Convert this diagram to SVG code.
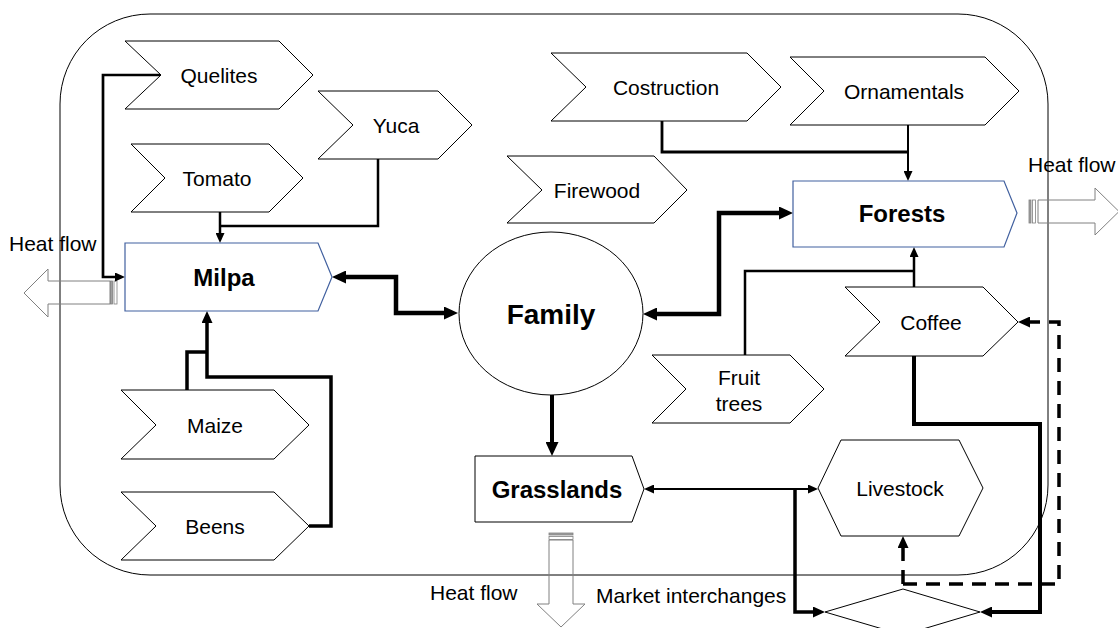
<svg xmlns="http://www.w3.org/2000/svg" width="1118" height="628" viewBox="0 0 1118 628">
<style>
.sh{fill:#fff;stroke:#000;stroke-width:1}
.bl{fill:#fff;stroke:#41609f;stroke-width:1.2}
.t{font-family:"Liberation Sans",Arial,sans-serif;font-size:21px;fill:#000;text-anchor:middle}
.tb{font-family:"Liberation Sans",Arial,sans-serif;font-size:24px;font-weight:bold;fill:#000;text-anchor:middle}
.tl{font-family:"Liberation Sans",Arial,sans-serif;font-size:21px;fill:#000}
.c{fill:none;stroke:#000;stroke-linejoin:miter}
.ha{fill:none;stroke:#808080;stroke-width:1}
</style>
<defs>
<marker id="big" markerUnits="userSpaceOnUse" viewBox="0 0 14 13" markerWidth="14" markerHeight="13" refX="8" refY="6.5" orient="auto-start-reverse"><path d="M0,0 L14,6.5 L0,13 z" fill="#000"/></marker>
<marker id="med" markerUnits="userSpaceOnUse" viewBox="0 0 12 11" markerWidth="12" markerHeight="11" refX="7" refY="5.5" orient="auto-start-reverse"><path d="M0,0 L12,5.5 L0,11 z" fill="#000"/></marker>
<marker id="sm" markerUnits="userSpaceOnUse" viewBox="0 0 10 9" markerWidth="10" markerHeight="9" refX="6" refY="4.5" orient="auto-start-reverse"><path d="M0,0 L10,4.5 L0,9 z" fill="#000"/></marker>
</defs>
<rect width="1118" height="628" fill="#fff"/>
<rect id="boundary" x="60" y="14" width="988" height="561" rx="90" ry="90" fill="none" stroke="#000" stroke-width="1"/>

<g id="heat-left">
<polygon class="ha" points="110,281 48,281 48,269 24,293 48,317 48,304 110,304"/>
<rect x="110.5" y="281" width="2" height="23" fill="#a0a0a0" stroke="#808080" stroke-width="0.8"/>
<rect x="114" y="281" width="3" height="23" fill="none" stroke="#808080" stroke-width="0.8"/>
<text class="tl" x="9" y="251">Heat flow</text>
</g>
<g id="heat-right">
<polygon class="ha" points="1038,200 1095,200 1095,188 1119,211.5 1095,235 1095,223 1038,223"/>
<rect x="1029" y="200" width="2" height="23" fill="#a0a0a0" stroke="#808080" stroke-width="0.8"/>
<rect x="1032.5" y="200" width="3" height="23" fill="none" stroke="#808080" stroke-width="0.8"/>
<text class="tl" x="1028" y="172">Heat flow</text>
</g>
<g id="heat-bottom">
<polygon class="ha" points="549,540 549,604 537,604 561,627 585,604 573,604 573,540"/>
<rect x="549" y="533" width="24" height="2" fill="#a0a0a0" stroke="#808080" stroke-width="0.8"/>
<rect x="549" y="536.5" width="24" height="3" fill="none" stroke="#808080" stroke-width="0.8"/>
<text class="tl" x="430" y="600">Heat flow</text>
</g>
<g id="market"><text class="tl" x="596" y="603">Market interchanges</text></g>

<g id="connectors">
<path class="c" stroke-width="2.7" d="M161,75 H103 V277 H121" marker-end="url(#sm)"/>
<path class="c" stroke-width="2.5" d="M378,159 V226 H220"/>
<path class="c" stroke-width="2.5" d="M220,212 V239" marker-end="url(#sm)"/>
<path class="c" stroke-width="3.5" d="M187,390 V352 H207"/>
<path class="c" stroke-width="3.5" d="M309,526 H331 V377 H207 V316" marker-end="url(#med)"/>
<path class="c" stroke-width="4.5" d="M338,277 H396 V313 H452" marker-start="url(#big)" marker-end="url(#big)"/>
<path class="c" stroke-width="4.5" d="M649,314 H719 V213 H787" marker-start="url(#big)" marker-end="url(#big)"/>
<path class="c" stroke-width="4" d="M552,395 V450" marker-end="url(#big)"/>
<path class="c" stroke-width="2.8" d="M662,121 V152 H908"/>
<path class="c" stroke-width="2" d="M908,125 V177" marker-end="url(#sm)"/>
<path class="c" stroke-width="2.5" d="M745,355 V271 H914"/>
<path class="c" stroke-width="2.5" d="M914,287 V251" marker-end="url(#sm)"/>
<path class="c" stroke-width="2" d="M648,489 H814" marker-start="url(#sm)" marker-end="url(#sm)"/>
<path class="c" stroke-width="3.5" d="M795,488 V612 H820" marker-end="url(#med)"/>
<path class="c" stroke-width="4" d="M914,356 V424 H1040 V612 H985" marker-end="url(#med)"/>
<path class="c" stroke-width="3.5" stroke-dasharray="14 9" d="M903,584 H1059 V322 H1023" marker-end="url(#med)"/>
<path class="c" stroke-width="3.5" stroke-dasharray="14 9" d="M903,584 V541" marker-end="url(#med)"/>
</g>

<g id="quelites"><polygon class="sh" points="125,41 279,41 313,75 279,109 125,109 161,75"/><text class="t" x="219" y="82.5">Quelites</text></g>
<g id="tomato"><polygon class="sh" points="131,144 269,144 303,178 269,212 131,212 165,178"/><text class="t" x="217" y="185.5">Tomato</text></g>
<g id="yuca"><polygon class="sh" points="318,91 438,91 472,125 438,159 318,159 353,125"/><text class="t" x="396" y="132.5">Yuca</text></g>
<g id="milpa"><polygon class="bl" points="125,243 318,243 332,277 318,311 125,311"/><text class="tb" x="224" y="285.5">Milpa</text></g>
<g id="maize"><polygon class="sh" points="121,390 274,390 309,425 274,459 121,459 156,425"/><text class="t" x="215" y="432.5">Maize</text></g>
<g id="beens"><polygon class="sh" points="121,492 274,492 309,526 274,560 121,560 156,526"/><text class="t" x="215" y="533.5">Beens</text></g>
<g id="family"><ellipse class="sh" cx="551" cy="313.5" rx="92" ry="81.5"/><text class="tb" style="font-size:28px" x="551" y="323.5">Family</text></g>
<g id="costruction"><polygon class="sh" points="551,53 747,53 781,87 747,121 551,121 586,87"/><text class="t" x="666" y="94.5">Costruction</text></g>
<g id="ornamentals"><polygon class="sh" points="790,57 985,57 1019,91 985,125 790,125 824,91"/><text class="t" x="904" y="98.5">Ornamentals</text></g>
<g id="firewood"><polygon class="sh" points="507,156 654,156 687,190 654,223 507,223 542,190"/><text class="t" x="597" y="197.5">Firewood</text></g>
<g id="forests"><polygon class="bl" points="793,181 1004,181 1017,213 1004,247 793,247"/><text class="tb" x="902" y="221.5">Forests</text></g>
<g id="fruit-trees"><polygon class="sh" points="652,355 790,355 824,389 790,423 652,423 686,389"/><text class="t" x="739" y="384.5">Fruit</text><text class="t" x="739" y="410.5">trees</text></g>
<g id="coffee"><polygon class="sh" points="845,287 983,287 1018,322 983,356 845,356 880,322"/><text class="t" x="931" y="329.5">Coffee</text></g>
<g id="grasslands"><polygon class="sh" points="475,456 632,456 644,489 632,522 475,522"/><text class="tb" x="557" y="497.5">Grasslands</text></g>
<g id="livestock"><polygon class="sh" points="818,488 841,440 959,440 983,488 959,536 841,536"/><text class="t" x="900" y="495.5">Livestock</text></g>
<g id="market-node"><polygon class="sh" points="825,612 903,589 980,612 903,635"/></g>
</svg>
